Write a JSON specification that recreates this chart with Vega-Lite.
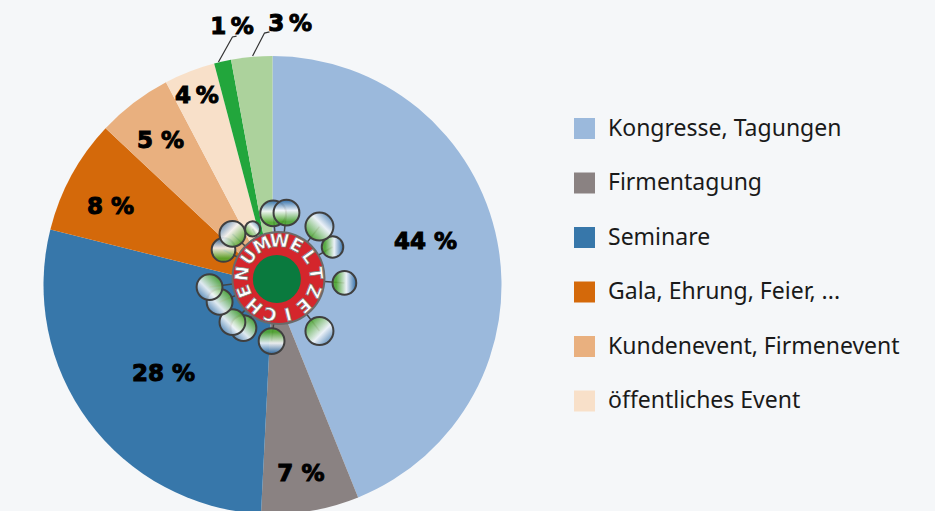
{"$schema":"https://vega.github.io/schema/vega-lite/v6.json","width":935,"height":511,"padding":0,"autosize":"none","background":"#f5f7f9","config":{"axis":{"disable":true},"view":{"stroke":null}},"datasets":{"kugeln":[{"x":0.3,"y":31.3,"radius":12,"verlauf":"a"},{"x":6.1,"y":31.6,"radius":12,"verlauf":"a"},{"x":20.5,"y":25.5,"radius":13,"verlauf":"e"},{"x":26.2,"y":16.6,"radius":10,"verlauf":"c"},{"x":31.4,"y":0.9,"radius":11,"verlauf":"c"},{"x":20.5,"y":-20.1,"radius":13,"verlauf":"d"},{"x":-0.4,"y":-24.5,"radius":12,"verlauf":"b"},{"x":-12.7,"y":-18.8,"radius":12,"verlauf":"f"},{"x":-17.5,"y":-16.2,"radius":12,"verlauf":"f"},{"x":-23.1,"y":-7.4,"radius":12,"verlauf":"f"},{"x":-27.5,"y":-0.9,"radius":12,"verlauf":"f"},{"x":-21.4,"y":15.3,"radius":11,"verlauf":"a"},{"x":-17.5,"y":22.3,"radius":12,"verlauf":"d2"},{"x":-8.7,"y":24.5,"radius":7,"verlauf":"e"}]},"layer":[{"data":{"values":[{"kategorie":"Kongresse, Tagungen","anteil":43.9,"ordnung":1},{"kategorie":"Firmentagung","anteil":6.9,"ordnung":2},{"kategorie":"Seminare","anteil":28.1,"ordnung":3},{"kategorie":"Gala, Ehrung, Feier, ...","anteil":8.1,"ordnung":4},{"kategorie":"Kundenevent, Firmenevent","anteil":5.3,"ordnung":5},{"kategorie":"öffentliches Event","anteil":3.6,"ordnung":6},{"kategorie":"Sonstige 1","anteil":1.2,"ordnung":7},{"kategorie":"Sonstige 2","anteil":2.9,"ordnung":8}]},"mark":{"type":"arc","radius":229},"encoding":{"x":{"datum":0,"type":"quantitative","scale":{"domain":[-119,289.3],"nice":false,"zero":false}},"y":{"datum":0,"type":"quantitative","scale":{"domain":[-98.69,124.45],"nice":false,"zero":false}},"theta":{"field":"anteil","type":"quantitative","stack":true},"order":{"field":"ordnung"},"color":{"field":"kategorie","type":"nominal","sort":null,"scale":{"domain":["Kongresse, Tagungen","Firmentagung","Seminare","Gala, Ehrung, Feier, ...","Kundenevent, Firmenevent","öffentliches Event","Sonstige 1","Sonstige 2"],"range":["#9bb9dc","#8a8282","#3777aa","#d4690a","#e9b07f","#f8e0c9","#22a63c","#acd29c"]},"legend":{"title":null,"orient":"none","legendX":573,"legendY":117,"values":["Kongresse, Tagungen","Firmentagung","Seminare","Gala, Ehrung, Feier, ...","Kundenevent, Firmenevent","öffentliches Event"],"symbolType":"square","symbolSize":441,"symbolStrokeWidth":0,"symbolOpacity":1,"labelFont":"Noto Sans","labelFontSize":23,"labelColor":"#1a1a1a","labelOffset":12,"rowPadding":30.5,"labelLimit":400}}}},{"data":{"name":"kugeln"},"mark":{"type":"rule","stroke":"#444444","strokeWidth":1.5},"encoding":{"x":{"field":"x","type":"quantitative"},"y":{"field":"y","type":"quantitative"},"x2":{"datum":2.84},"y2":{"datum":3.06}}},{"data":{"name":"kugeln"},"transform":[{"filter":"datum.verlauf=='a'"}],"mark":{"type":"point","filled":true,"shape":"circle","opacity":1,"fillOpacity":0.88,"stroke":"#3f3f3f","strokeWidth":2,"fill":{"gradient":"linear","x1":0,"y1":0,"x2":0,"y2":1,"stops":[{"offset":0.02,"color":"#2a6aa6"},{"offset":0.42,"color":"#f6f9fb"},{"offset":0.85,"color":"#4fa82f"}]}},"encoding":{"x":{"field":"x","type":"quantitative"},"y":{"field":"y","type":"quantitative"},"size":{"field":"radius","type":"quantitative","legend":null,"scale":{"type":"pow","exponent":2,"domain":[0,13],"range":[0,784]}}}},{"data":{"name":"kugeln"},"transform":[{"filter":"datum.verlauf=='b'"}],"mark":{"type":"point","filled":true,"shape":"circle","opacity":1,"fillOpacity":0.88,"stroke":"#3f3f3f","strokeWidth":2,"fill":{"gradient":"linear","x1":0,"y1":1,"x2":0,"y2":0,"stops":[{"offset":0.02,"color":"#2a6aa6"},{"offset":0.42,"color":"#f6f9fb"},{"offset":0.85,"color":"#4fa82f"}]}},"encoding":{"x":{"field":"x","type":"quantitative"},"y":{"field":"y","type":"quantitative"},"size":{"field":"radius","type":"quantitative","legend":null}}},{"data":{"name":"kugeln"},"transform":[{"filter":"datum.verlauf=='c'"}],"mark":{"type":"point","filled":true,"shape":"circle","opacity":1,"fillOpacity":0.88,"stroke":"#3f3f3f","strokeWidth":2,"fill":{"gradient":"linear","x1":1,"y1":0,"x2":0,"y2":0,"stops":[{"offset":0.02,"color":"#2a6aa6"},{"offset":0.42,"color":"#f6f9fb"},{"offset":0.85,"color":"#4fa82f"}]}},"encoding":{"x":{"field":"x","type":"quantitative"},"y":{"field":"y","type":"quantitative"},"size":{"field":"radius","type":"quantitative","legend":null}}},{"data":{"name":"kugeln"},"transform":[{"filter":"datum.verlauf=='d'"}],"mark":{"type":"point","filled":true,"shape":"circle","opacity":1,"fillOpacity":0.88,"stroke":"#3f3f3f","strokeWidth":2,"fill":{"gradient":"linear","x1":1,"y1":1,"x2":0,"y2":0,"stops":[{"offset":0.02,"color":"#2a6aa6"},{"offset":0.42,"color":"#f6f9fb"},{"offset":0.85,"color":"#4fa82f"}]}},"encoding":{"x":{"field":"x","type":"quantitative"},"y":{"field":"y","type":"quantitative"},"size":{"field":"radius","type":"quantitative","legend":null}}},{"data":{"name":"kugeln"},"transform":[{"filter":"datum.verlauf=='d2'"}],"mark":{"type":"point","filled":true,"shape":"circle","opacity":1,"fillOpacity":0.88,"stroke":"#3f3f3f","strokeWidth":2,"fill":{"gradient":"linear","x1":0,"y1":0,"x2":1,"y2":1,"stops":[{"offset":0.02,"color":"#2a6aa6"},{"offset":0.42,"color":"#f6f9fb"},{"offset":0.85,"color":"#4fa82f"}]}},"encoding":{"x":{"field":"x","type":"quantitative"},"y":{"field":"y","type":"quantitative"},"size":{"field":"radius","type":"quantitative","legend":null}}},{"data":{"name":"kugeln"},"transform":[{"filter":"datum.verlauf=='e'"}],"mark":{"type":"point","filled":true,"shape":"circle","opacity":1,"fillOpacity":0.88,"stroke":"#3f3f3f","strokeWidth":2,"fill":{"gradient":"linear","x1":1,"y1":0,"x2":0,"y2":1,"stops":[{"offset":0.02,"color":"#2a6aa6"},{"offset":0.42,"color":"#f6f9fb"},{"offset":0.85,"color":"#4fa82f"}]}},"encoding":{"x":{"field":"x","type":"quantitative"},"y":{"field":"y","type":"quantitative"},"size":{"field":"radius","type":"quantitative","legend":null}}},{"data":{"name":"kugeln"},"transform":[{"filter":"datum.verlauf=='f'"}],"mark":{"type":"point","filled":true,"shape":"circle","opacity":1,"fillOpacity":0.88,"stroke":"#3f3f3f","strokeWidth":2,"fill":{"gradient":"linear","x1":0,"y1":1,"x2":1,"y2":0,"stops":[{"offset":0.02,"color":"#2a6aa6"},{"offset":0.42,"color":"#f6f9fb"},{"offset":0.85,"color":"#4fa82f"}]}},"encoding":{"x":{"field":"x","type":"quantitative"},"y":{"field":"y","type":"quantitative"},"size":{"field":"radius","type":"quantitative","legend":null}}},{"data":{"values":[{"x":2.6,"y":3.06}]},"mark":{"type":"point","filled":true,"shape":"circle","size":8464,"opacity":1,"fill":"#d4262c","stroke":"#6a6a6a","strokeWidth":2},"encoding":{"x":{"field":"x","type":"quantitative"},"y":{"field":"y","type":"quantitative"}}},{"data":{"values":[{"buchstabe":"U","x":-10.03,"y":12.08,"winkel":-55},{"buchstabe":"M","x":-4.3,"y":17.07,"winkel":-27},{"buchstabe":"W","x":3.11,"y":18.78,"winkel":1},{"buchstabe":"E","x":10.22,"y":16.94,"winkel":28},{"buchstabe":"L","x":15.72,"y":12.08,"winkel":55},{"buchstabe":"T","x":18.45,"y":4.98,"winkel":83},{"buchstabe":"Z","x":17.52,"y":-2.57,"winkel":111},{"buchstabe":"E","x":13.36,"y":-8.62,"winkel":138},{"buchstabe":"I","x":6.64,"y":-12.19,"winkel":166},{"buchstabe":"C","x":-0.96,"y":-12.19,"winkel":194},{"buchstabe":"H","x":-7.47,"y":-8.81,"winkel":221},{"buchstabe":"E","x":-11.84,"y":-2.57,"winkel":249},{"buchstabe":"N","x":-12.77,"y":4.98,"winkel":277}]},"mark":{"type":"text","font":"DejaVu Sans","fontWeight":"bold","fontSize":18,"align":"center","baseline":"middle","fill":"#ffffff","stroke":"#7a7a7a","strokeWidth":0.7},"encoding":{"x":{"field":"x","type":"quantitative"},"y":{"field":"y","type":"quantitative"},"text":{"field":"buchstabe"},"angle":{"field":"winkel","type":"quantitative","scale":null}}},{"data":{"values":[{"x":1.9,"y":2.6}]},"mark":{"type":"point","filled":true,"shape":"circle","size":2304,"opacity":1,"fill":"#0a7a3e"},"encoding":{"x":{"field":"x","type":"quantitative"},"y":{"field":"y","type":"quantitative"}}},{"data":{"values":[{"bezug":"1","schritt":1,"x":-23.6,"y":97.4},{"bezug":"1","schritt":2,"x":-17.5,"y":108.3},{"bezug":"1","schritt":3,"x":-15.7,"y":108.7},{"bezug":"3","schritt":1,"x":-8.7,"y":100},{"bezug":"3","schritt":2,"x":-3.5,"y":110},{"bezug":"3","schritt":3,"x":-1.3,"y":110.5}]},"mark":{"type":"line","stroke":"#333333","strokeWidth":1.2},"encoding":{"x":{"field":"x","type":"quantitative"},"y":{"field":"y","type":"quantitative"},"detail":{"field":"bezug"},"order":{"field":"schritt"}}},{"data":{"values":[{"beschriftung":"44 %","x":66.8,"y":18.7},{"beschriftung":"7 %","x":12.4,"y":-82.6},{"beschriftung":"28 %","x":-47.6,"y":-38.9},{"beschriftung":"8 %","x":-70.7,"y":34},{"beschriftung":"5 %","x":-48.9,"y":62.8},{"beschriftung":"4\u2009%","x":-33,"y":82.5},{"beschriftung":"1\u2009%","x":-17.7,"y":112.6},{"beschriftung":"3\u2009%","x":7.7,"y":113.9}]},"mark":{"type":"text","font":"DejaVu Sans","fontWeight":"bold","fontSize":23,"align":"center","baseline":"middle","fill":"#000000","stroke":"#000000","strokeWidth":1},"encoding":{"x":{"field":"x","type":"quantitative"},"y":{"field":"y","type":"quantitative"},"text":{"field":"beschriftung"}}}]}
